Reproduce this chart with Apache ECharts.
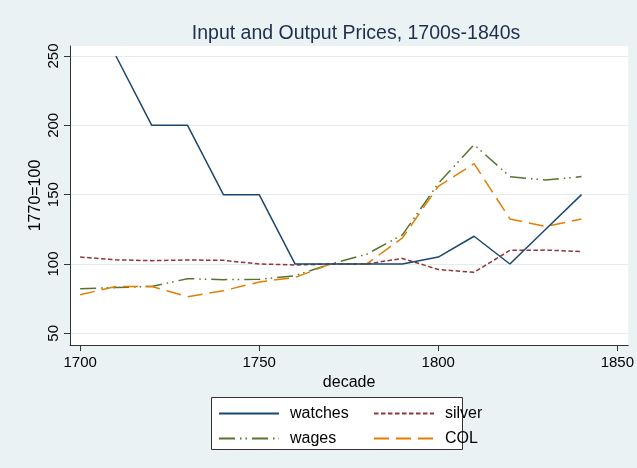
<!DOCTYPE html>
<html>
<head>
<meta charset="utf-8">
<script src="https://cdn.jsdelivr.net/npm/echarts@6/dist/echarts.min.js"></script>
<style>html,body{margin:0;padding:0;background:#eaf2f3;}#c{width:637px;height:468px;}</style>
</head>
<body>
<div id="c"></div>
<script>
const years = [1700,1710,1720,1730,1740,1750,1760,1770,1780,1790,1800,1810,1820,1830,1840];
const watches = [null,250,200,200,150,150,100,100,100,100,105,120,100,125,150];
const silver = [105,103,102.4,102.9,102.6,100,99.3,100,100,104,96,94,109.8,110,109];
const wages = [82.2,83,83.8,89.4,88.7,88.9,91.5,100,107,121,158,186,163,160.5,163];
const col = [77.8,83.8,83.8,76.4,80.7,87,90.3,100,100,118.8,156,172.4,132.5,127,132.5];
const xTicks = [1700,1750,1800,1850];
const yTicks = [50,100,150,200,250];

const pairs = arr => years.map((y,i) => [y, arr[i]]);
const FONT = 'Liberation Sans, Arial, Helvetica, sans-serif';

const chart = echarts.init(document.getElementById('c'));
function mk(name, data, color, type, z) {
  return {
    name, type: 'line', data: pairs(data), symbol: 'none', showSymbol: false,
    connectNulls: false, z: z,
    lineStyle: { color, width: 1.5, type, cap: 'butt' },
    itemStyle: { color },
    emphasis: { disabled: true }, animation: false
  };
}
const legendBase = {
  orient: 'vertical', top: 404.5, padding: 0,
  itemWidth: 60, itemHeight: 18, itemGap: 7, z: 5,
  itemStyle: { opacity: 0 },
  textStyle: { fontSize: 16, color: '#000', lineHeight: 18, padding: [0,0,0,6], fontFamily: FONT },
  selectedMode: false
};
chart.setOption({
  backgroundColor: '#eaf2f3',
  animation: false,
  textStyle: { fontFamily: FONT },
  title: {
    text: 'Input and Output Prices, 1700s-1840s',
    left: 351, top: 19, textAlign: 'center',
    textStyle: { fontSize: 19.5, fontWeight: 'normal', color: '#1f2d4e', fontFamily: FONT }
  },
  graphic: [{
    type: 'rect', z: 0,
    shape: { x: 211.5, y: 397.5, width: 251, height: 52 },
    style: { fill: '#ffffff', stroke: '#333333', lineWidth: 1 }
  }],
  legend: [
    Object.assign({}, legendBase, { data: ['watches', 'wages'], left: 218 }),
    Object.assign({}, legendBase, { data: ['silver', 'COL'], left: 373 })
  ],
  grid: { left: 70, right: 5, top: 46, bottom: 123, show: true, backgroundColor: '#ffffff', borderWidth: 0 },
  xAxis: {
    type: 'value', min: 1697.17, max: 1853.05,
    name: 'decade', nameLocation: 'middle', nameGap: 30,
    nameTextStyle: { fontSize: 16, color: '#000', fontFamily: FONT },
    axisLine: { show: true, lineStyle: { color: '#333', width: 1 } },
    axisTick: { show: true, length: 6, customValues: xTicks, lineStyle: { color: '#333' } },
    axisLabel: { customValues: xTicks, formatter: v => String(v), fontSize: 15, color: '#000', margin: 10, fontFamily: FONT },
    splitLine: { show: false }
  },
  yAxis: {
    type: 'value', min: 41.56, max: 257.2,
    name: '1770=100', nameLocation: 'middle', nameGap: 26, nameRotate: 90,
    nameMoveOverlap: false,
    nameTextStyle: { fontSize: 16, color: '#000', fontFamily: FONT },
    axisLine: { show: true, lineStyle: { color: '#333', width: 1 } },
    axisTick: { show: true, length: 6, customValues: yTicks, lineStyle: { color: '#333' } },
    axisLabel: { customValues: yTicks, formatter: v => String(v), fontSize: 15, color: '#000', margin: 9, rotate: 90, fontFamily: FONT },
    splitLine: { show: true, lineStyle: { color: '#e3edf0', width: 1 } }
  },
  series: [
    mk('watches', watches, '#1a476f', 'solid', 4),
    mk('silver', silver, '#90353b', [4.5, 2.5], 3),
    mk('wages', wages, '#55752f', [16, 5, 1.5, 4, 1.5, 5], 2),
    mk('COL', col, '#e37e00', [15, 7], 3)
  ]
});
</script>
</body>
</html>
